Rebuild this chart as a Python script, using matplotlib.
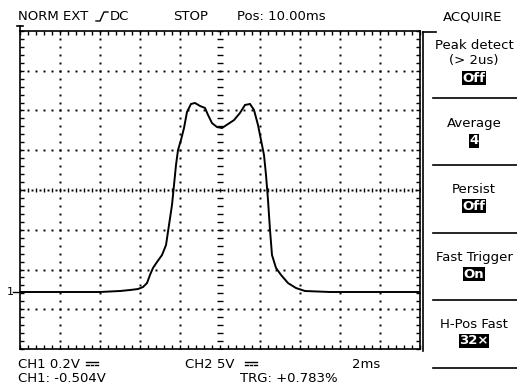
import numpy as np
import matplotlib
matplotlib.use("Agg")
import matplotlib.pyplot as plt
from matplotlib.lines import Line2D

# trace: time (ms) and CH1 voltage (V)
t_ms = [0, 2, 4, 5, 5.5, 5.9, 6.15, 6.35, 6.5, 6.65, 6.85, 7.1, 7.3, 7.45, 7.6,
        7.7, 7.8, 7.9, 8.05, 8.2, 8.35, 8.55, 8.75, 9.0, 9.25, 9.4, 9.6, 9.85,
        10.1, 10.4, 10.7, 11.0, 11.25, 11.5, 11.7, 11.9, 12.05, 12.2, 12.3,
        12.4, 12.5, 12.6, 12.8, 13.05, 13.4, 13.8, 14.25, 15.5, 20]
volts = [0, 0, 0, 0.005, 0.01, 0.015, 0.025, 0.045, 0.086, 0.121, 0.151, 0.186,
         0.236, 0.337, 0.438, 0.538, 0.639, 0.714, 0.765, 0.825, 0.906, 0.946,
         0.951, 0.936, 0.926, 0.891, 0.850, 0.830, 0.825, 0.845, 0.865, 0.901,
         0.941, 0.946, 0.916, 0.840, 0.765, 0.689, 0.589, 0.463, 0.312, 0.186,
         0.121, 0.086, 0.045, 0.020, 0.005, 0, 0]

menu_titles = ["Peak detect\n(> 2us)", "Average", "Persist", "Fast Trigger", "H-Pos Fast"]
menu_values = ["Off", "4", "Off", "On", "32\u00d7"]

W, H = 517, 392
fig = plt.figure(figsize=(W / 100, H / 100), dpi=100)
fig.patch.set_facecolor("white")


def fx(x):
    return x / W


def fy(y):
    return 1 - y / H


def seg(xs, ys, lw=1.2):
    fig.add_artist(Line2D([fx(v) for v in xs], [fy(v) for v in ys],
                          color="black", lw=lw))


# graticule: 10 x 8 divisions, 2 ms/div, 0.2 V/div
left, right, top, bottom = 20, 420, 31, 349
ax = fig.add_axes([fx(left), fy(bottom), (right - left) / W, (bottom - top) / H])
vdiv = 0.2
ybot = -(bottom - 292) / ((bottom - top) / 8) * vdiv
ax.set_xlim(0, 20)
ax.set_ylim(ybot, ybot + 8 * vdiv)

for s in ax.spines.values():
    s.set_linewidth(1.2)
ax.set_xticks(np.arange(0, 20.01, 0.4))
ax.set_yticks(ybot + np.arange(0, 8.01, 0.2) * vdiv)
ax.tick_params(which="both", direction="in", length=3, width=1,
               top=True, right=True, labelbottom=False, labelleft=False)

# dotted grid
xs_minor = np.arange(0, 20.01, 0.4)
ys_minor = ybot + np.arange(0, 8.01, 0.2) * vdiv
for k in range(1, 10):
    if k == 5:
        continue
    ax.plot(np.full_like(ys_minor, 2 * k), ys_minor, ls="none", marker="s",
            ms=1.4, mew=0, color="black")
for k in range(1, 8):
    if k == 4:
        continue
    ax.plot(xs_minor, np.full_like(xs_minor, ybot + k * vdiv), ls="none",
            marker="s", ms=1.4, mew=0, color="black")
# centre cross with small dashes
ax.plot(np.full_like(ys_minor, 10), ys_minor, ls="none", marker="_", ms=4,
        mew=1, color="black")
ax.plot(xs_minor, np.full_like(xs_minor, ybot + 4 * vdiv), ls="none", marker="|",
        ms=3, mew=1, color="black")
xs_fine = np.arange(0.2, 20, 0.4)
ax.plot(xs_fine, np.full_like(xs_fine, ybot + 4 * vdiv), ls="none", marker="s",
        ms=1.4, mew=0, color="black")

# the trace
ax.plot(t_ms, volts, color="black", lw=1.4, solid_joinstyle="miter")

# channel marker
fig.text(fx(7), fy(292), "1", fontsize=8, va="center", ha="left")
seg([13, 19], [292, 292], lw=1)
# trigger marker at top left
seg([17, 23], [26, 26])
seg([20, 20], [26, 31])

font = dict(fontsize=9.5, family=["DejaVu Sans"])

# top status line
fig.text(fx(18), fy(17), "NORM EXT", va="center", **font)
seg([96, 100, 104, 108], [21, 21, 12, 12], lw=1)
fig.text(fx(110), fy(17), "DC", va="center", **font)
fig.text(fx(173), fy(17), "STOP", va="center", **font)
fig.text(fx(237), fy(17), "Pos: 10.00ms", va="center", **font)
fig.text(fx(473), fy(17), "ACQUIRE", va="center", ha="center", **font)


def dc_mark(x0, y0):
    # solid bar over a dashed bar (DC coupling sign)
    seg([x0, x0 + 12], [y0, y0], lw=1)
    for d in range(3):
        seg([x0 + d * 4.5, x0 + d * 4.5 + 2.5], [y0 + 3, y0 + 3], lw=1)


# bottom status lines
fig.text(fx(18), fy(364), "CH1 0.2V", va="center", **font)
dc_mark(86, 362)
fig.text(fx(185), fy(364), "CH2 5V", va="center", **font)
dc_mark(245, 362)
fig.text(fx(352), fy(364), "2ms", va="center", **font)
fig.text(fx(18), fy(378), "CH1: -0.504V", va="center", **font)
fig.text(fx(240), fy(378), "TRG: +0.783%", va="center", **font)

# right menu
seg([423, 423], [32, 351])
seg([423, 436], [32, 32])
for ysep in [98, 165, 233, 300, 368]:
    seg([433, 517], [ysep, ysep])

title_y = [53, 123, 189, 257, 324]
value_y = [78, 141, 206, 274, 341]
for name, val, ty, vy in zip(menu_titles, menu_values, title_y, value_y):
    fig.text(fx(474), fy(ty), name, ha="center", va="center", linespacing=1.25, **font)
    fig.text(fx(474), fy(vy), val, ha="center", va="center", color="white",
             fontweight="bold",
             bbox=dict(facecolor="black", edgecolor="none", pad=0.5), **font)

fig.savefig("out.png", dpi=100)
